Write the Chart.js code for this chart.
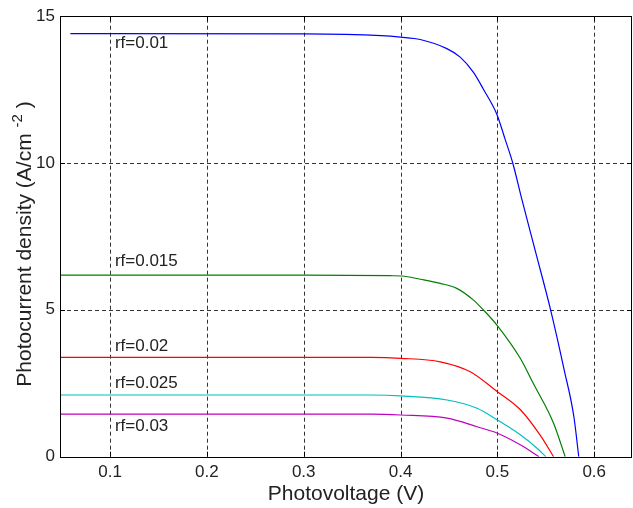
<!DOCTYPE html>
<html>
<head>
<meta charset="utf-8">
<script src="https://cdn.jsdelivr.net/npm/chart.js@4/dist/chart.umd.min.js"></script>
<style>
  html, body { margin: 0; padding: 0; background: #fff; }
  #wrap { width: 633px; height: 508px; }
</style>
</head>
<body>
<div id="wrap"><canvas id="ivChart" width="633" height="508"></canvas></div>
<script>
// values
var xTicks = [0.1, 0.2, 0.3, 0.4, 0.5, 0.6];
var yTicks = [0, 5, 10, 15];

var rfNames = ['rf=0.01', 'rf=0.015', 'rf=0.02', 'rf=0.025', 'rf=0.03'];
var rfColors = ['#0000ff', '#008000', '#ff0000', '#00bfbf', '#bf00bf'];

var vRf001 = [0.059, 0.3, 0.38, 0.4, 0.4203, 0.4478, 0.4616, 0.4753, 0.4857, 0.4995, 0.508, 0.516, 0.525, 0.539, 0.555, 0.569, 0.579, 0.584];
var jRf001 = [14.4, 14.39, 14.33, 14.28, 14.2, 13.89, 13.6, 13.08, 12.5, 11.65, 10.8, 9.98, 8.79, 7.02, 4.99, 2.95, 1.36, 0];

var vRf0015 = [0.04, 0.3, 0.3893, 0.4013, 0.4203, 0.4409, 0.458, 0.4753, 0.4857, 0.4995, 0.5236, 0.537, 0.558, 0.570];
var jRf0015 = [6.18, 6.18, 6.16, 6.15, 6.04, 5.9, 5.73, 5.33, 4.99, 4.48, 3.35, 2.5, 1.14, 0];

var vRf002 = [0.04, 0.37, 0.4, 0.441, 0.472, 0.5, 0.524, 0.544, 0.558];
var jRf002 = [3.38, 3.38, 3.35, 3.23, 2.89, 2.21, 1.59, 0.74, 0];

var vRf0025 = [0.04, 0.37, 0.4, 0.448, 0.479, 0.5, 0.524, 0.541, 0.55];
var jRf0025 = [2.1, 2.1, 2.07, 1.93, 1.65, 1.25, 0.74, 0.29, 0];

var vRf003 = [0.04, 0.37, 0.4, 0.448, 0.479, 0.5, 0.524, 0.543];
var jRf003 = [1.45, 1.45, 1.42, 1.31, 1.02, 0.80, 0.40, 0];

// where the rf=... text sits (data units)
var labelV = 0.105;
var labelJ = [14.07, 6.65, 3.77, 2.51, 1.04];

var xMin = 0.0483, xMax = 0.639;
var yMin = 0, yMax = 15;

var FONT = 'Liberation Sans, Arial, sans-serif';

function toPoints(xs, ys) {
  var pts = [];
  for (let i = 0; i < xs.length; i++) {
    pts.push({ x: xs[i], y: ys[i] });
  }
  return pts;
}

var allV = [vRf001, vRf0015, vRf002, vRf0025, vRf003];
var allJ = [jRf001, jRf0015, jRf002, jRf0025, jRf003];

var datasets = [];
for (let i = 0; i < rfNames.length; i++) {
  datasets.push({
    label: rfNames[i],
    data: toPoints(allV[i], allJ[i]),
    borderColor: rfColors[i],
    backgroundColor: rfColors[i],
    borderWidth: 1.2,
    pointRadius: 0,
    cubicInterpolationMode: 'monotone',
    fill: false
  });
}

// dashed grid at the tick positions (drawn under the curves)
var dashedGrid = {
  id: 'dashedGrid',
  beforeDatasetsDraw: function (chart) {
    var ctx = chart.ctx;
    var a = chart.chartArea;
    var xs = chart.scales.x, ys = chart.scales.y;
    ctx.save();
    ctx.strokeStyle = '#333';
    ctx.lineWidth = 1;
    ctx.setLineDash([4, 3]);
    ctx.beginPath();
    xTicks.forEach(function (v) {
      var px = Math.round(xs.getPixelForValue(v)) + 0.5;
      ctx.moveTo(px, a.bottom); ctx.lineTo(px, a.top);
    });
    yTicks.forEach(function (v) {
      if (v === yMin || v === yMax) return;
      var py = Math.round(ys.getPixelForValue(v)) + 0.5;
      ctx.moveTo(a.left, py); ctx.lineTo(a.right, py);
    });
    ctx.stroke();
    ctx.restore();
  }
};

// box, inward ticks, curve labels and the y title (with superscript)
var matlabLook = {
  id: 'matlabLook',
  afterDraw: function (chart) {
    var ctx = chart.ctx;
    var a = chart.chartArea;
    var xs = chart.scales.x, ys = chart.scales.y;
    ctx.save();

    ctx.strokeStyle = '#000';
    ctx.lineWidth = 1;
    ctx.setLineDash([]);
    ctx.strokeRect(Math.round(a.left) + 0.5, Math.round(a.top) + 0.5,
      Math.round(a.right - a.left) - 1, Math.round(a.bottom - a.top));

    ctx.beginPath();
    xTicks.forEach(function (v) {
      var px = Math.round(xs.getPixelForValue(v)) + 0.5;
      ctx.moveTo(px, a.bottom); ctx.lineTo(px, a.bottom - 5);
      ctx.moveTo(px, a.top); ctx.lineTo(px, a.top + 5);
    });
    yTicks.forEach(function (v) {
      var py = Math.round(ys.getPixelForValue(v)) + 0.5;
      ctx.moveTo(a.left, py); ctx.lineTo(a.left + 5, py);
      ctx.moveTo(a.right, py); ctx.lineTo(a.right - 5, py);
    });
    ctx.stroke();

    ctx.fillStyle = '#222';
    ctx.font = '17px ' + FONT;
    ctx.textAlign = 'left';
    ctx.textBaseline = 'middle';
    for (let i = 0; i < rfNames.length; i++) {
      ctx.fillText(rfNames[i], xs.getPixelForValue(labelV), ys.getPixelForValue(labelJ[i]));
    }

    // y axis title
    var main = 'Photocurrent density (A/cm ';
    var sup = '-2';
    var tail = ' )';
    ctx.font = '21px ' + FONT;
    var w1 = ctx.measureText(main).width;
    var w3 = ctx.measureText(tail).width;
    ctx.font = '15px ' + FONT;
    var w2 = ctx.measureText(sup).width;
    var total = w1 + w2 + w3;
    ctx.translate(25, 244);
    ctx.rotate(-Math.PI / 2);
    ctx.textAlign = 'left';
    ctx.textBaseline = 'middle';
    ctx.fillStyle = '#222';
    ctx.font = '21px ' + FONT;
    ctx.fillText(main, -total / 2, 0);
    ctx.font = '15px ' + FONT;
    ctx.fillText(sup, -total / 2 + w1, -7);
    ctx.font = '21px ' + FONT;
    ctx.fillText(tail, -total / 2 + w1 + w2, 0);
    ctx.restore();
  }
};

var config = {
  type: 'line',
  data: { datasets: datasets },
  options: {
    responsive: false,
    devicePixelRatio: 1,
    animation: false,
    layout: { padding: { top: 16, right: 1, left: 0, bottom: 0 } },
    plugins: {
      legend: { display: false },
      tooltip: { enabled: false }
    },
    scales: {
      x: {
        type: 'linear',
        min: xMin,
        max: xMax,
        afterBuildTicks: function (scale) {
          scale.ticks = xTicks.map(function (v) { return { value: v }; });
        },
        afterFit: function (scale) { scale.height = 51.3; },
        grid: { display: false, drawTicks: false },
        border: { display: false },
        ticks: {
          padding: 5,
          color: '#222',
          font: { family: FONT, size: 17 },
          maxRotation: 0,
          callback: function (v) { return String(Math.round(v * 10) / 10); }
        },
        title: {
          display: true,
          text: 'Photovoltage (V)',
          color: '#222',
          font: { family: FONT, size: 21 },
          padding: { top: 0, bottom: 1 }
        }
      },
      y: {
        type: 'linear',
        min: yMin,
        max: yMax,
        afterBuildTicks: function (scale) {
          scale.ticks = yTicks.map(function (v) { return { value: v }; });
        },
        afterFit: function (scale) { scale.width = 60; },
        grid: { display: false, drawTicks: false },
        border: { display: false },
        ticks: {
          padding: 5,
          color: '#222',
          font: { family: FONT, size: 17 }
        }
      }
    }
  },
  plugins: [dashedGrid, matlabLook]
};

window.onload = function () {
  var ctx = document.getElementById('ivChart');
  new Chart(ctx, config);
};
</script>
</body>
</html>
